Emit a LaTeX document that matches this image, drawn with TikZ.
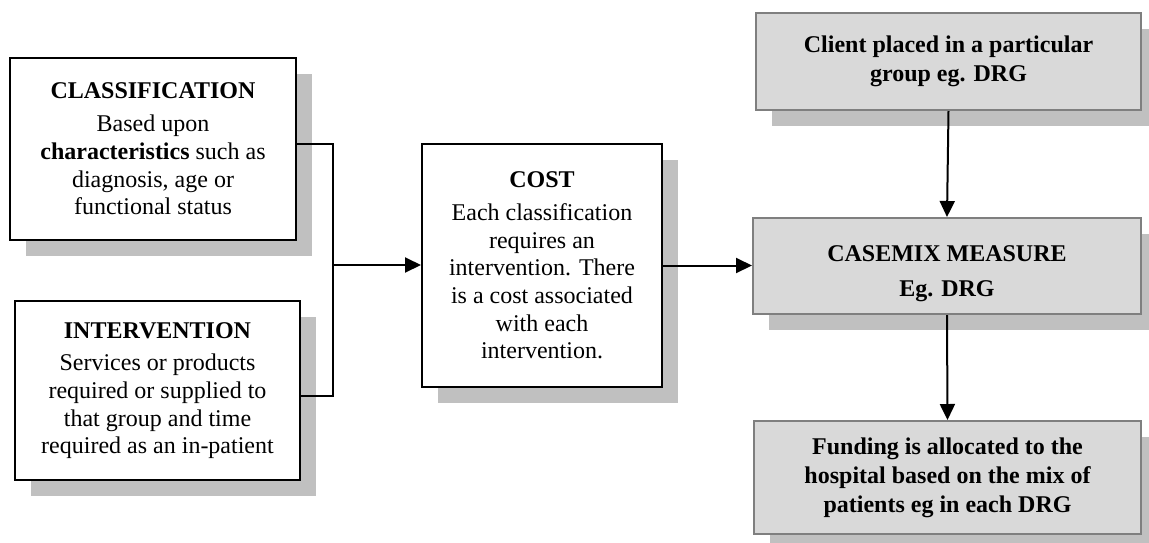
\documentclass[tikz,border=0pt]{standalone}
\usepackage{fontspec}
\setmainfont{Liberation Serif}
\usetikzlibrary{arrows.meta,shadows}
\definecolor{shadowgray}{HTML}{C0C0C0}
\definecolor{boxgray}{HTML}{D9D9D9}
\definecolor{edgegray}{HTML}{7F7F7F}
\tikzset{
  basebox/.style={rectangle, anchor=north west, align=center, inner sep=0pt,
    line width=2pt,
    font=\fontsize{24}{27.7}\selectfont,
    drop shadow={shadow xshift=16pt, shadow yshift=-16pt, fill=shadowgray, opacity=1}},
  whitebox/.style={basebox, draw=black, fill=white},
  graybox/.style={basebox, draw=edgegray, fill=boxgray, font=\fontsize{24}{29}\selectfont\bfseries},
  conn/.style={line width=2pt, draw=black},
  arr/.style={conn, -{Triangle[length=16pt,width=15pt]}}
}
\begin{document}
\begin{tikzpicture}[x=1pt,y=-1pt]
\useasboundingbox (0,0) rectangle (1149,542);
\clip (0,0) rectangle (1149,542);

\node[whitebox, minimum width=286pt, minimum height=182pt] (cls) at (9,57)
  {\textbf{CLASSIFICATION}\\[5pt] Based upon\\ \textbf{characteristics} such as\\ diagnosis, age or\\ functional status};
\node[whitebox, minimum width=285pt, minimum height=179pt] (int) at (14,300)
  {\textbf{INTERVENTION}\\[5pt] Services or products\\ required or supplied to\\ that group and time\\ required as an in-patient};
\node[whitebox, minimum width=240pt, minimum height=243pt] (cost) at (421,143)
  {\textbf{COST}\\[5pt] Each classification\\ requires an\\ intervention. There\\ is a cost associated\\ with each\\ intervention.};
\node[graybox, minimum width=385pt, minimum height=97pt] (client) at (755,12)
  {Client placed in a particular\\ group eg. DRG};
\node[graybox, minimum width=388pt, minimum height=96pt] (casemix) at (752,217)
  {\rule{0pt}{32pt}CASEMIX MEASURE\\[6pt] Eg. DRG};
\node[graybox, minimum width=387pt, minimum height=113pt] (fund) at (753,420)
  {Funding is allocated to the\\ hospital based on the mix of\\ patients eg in each DRG};

\coordinate (j) at (333,265);
\draw[conn] ([yshift=5pt]cls.east) -| (j);
\draw[conn] ([yshift=-5pt]int.east) -| (j);
\draw[arr] (j) -- (j -| cost.west);
\draw[arr] (cost.east) -- (cost.east -| casemix.west);
\draw[arr] (client.south) -- (casemix.north);
\draw[arr] (casemix.south) -- (fund.north);
\end{tikzpicture}
\end{document}
